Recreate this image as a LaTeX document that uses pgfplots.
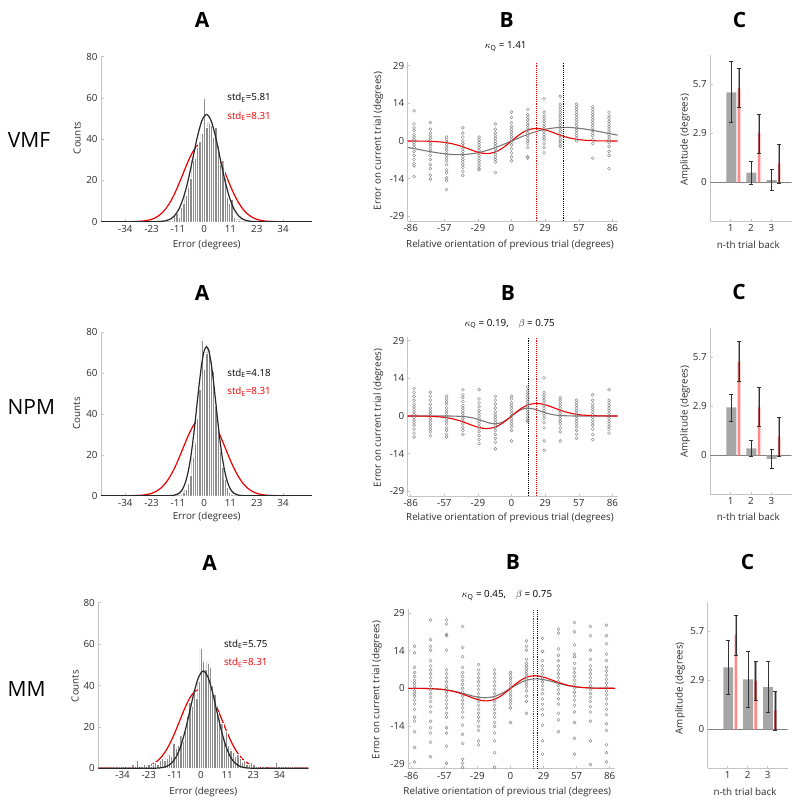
\documentclass[border=0pt]{standalone}
\usepackage{fontspec}
\setmainfont{Open Sans}
\usepackage{pgfplots}
\pgfplotsset{compat=1.18}
\definecolor{axgray}{RGB}{196,196,196}
\definecolor{txtgray}{RGB}{45,45,45}
\definecolor{histgray}{RGB}{140,140,140}
\definecolor{curveblk}{RGB}{40,40,40}
\definecolor{mred}{RGB}{238,0,0}
\definecolor{scgray}{RGB}{130,130,130}
\definecolor{fitgray}{RGB}{120,120,120}
\definecolor{bargray}{RGB}{166,166,166}
\definecolor{barred}{RGB}{255,135,135}
\definecolor{errc}{RGB}{50,50,50}
\newcommand{\tf}{\fontsize{9.8}{11.6}\selectfont}
\newcommand{\bigf}{\fontsize{21}{24}\selectfont}
\pgfplotsset{
  base/.style={scale only axis, anchor=south west, axis lines=left,
    axis line style={-, draw=axgray, line width=0.8pt},
    tick style={draw=axgray, line width=0.5pt}, major tick length=2.5pt, tick align=inside,
    tick label style={font=\tf, text=txtgray}},
  histA/.style={base, xmin=-45, xmax=47, ymin=0, ymax=80,
    xtick={-34.38,-22.92,-11.46,0,11.46,22.92,34.38}, xticklabels={-34,-23,-11,0,11,23,34},
    ytick={0,20,40,60,80}, yticklabels={0,20,40,60,80}},
  scB/.style={base, height=159.1pt, xmin=-88.5, xmax=90.5, ymin=-30.5, ymax=30,
    xtick={-85.94,-57.3,-28.65,0,28.65,57.3,85.94}, xticklabels={-86,-57,-29,0,29,57,86},
    ytick={-28.65,-14.32,0,14.32,28.65}, yticklabels={-29,-14,0,14,29}},
  barC/.style={base, height=166pt, xmin=0, xmax=4, ymin=-2.27, ymax=7.44,
    xtick={1,2,3}, xticklabels={1,2,3}, ytick={0,2.865,5.73}, yticklabels={0,2.9,5.7}},
  hbar/.style={ybar, bar shift=0pt, bar width=1, fill=histgray, draw=white, line width=0.18pt},
  redfit/.style={mred, line width=1.2pt, smooth},
  blkfit/.style={curveblk, line width=1.2pt, smooth},
  grayfit/.style={fitgray, line width=1.1pt, smooth},
  redB/.style={mred, line width=1.1pt, smooth},
  sc/.style={only marks, mark=o, mark size=1.5pt, scgray, mark options={line width=0.4pt}},
  vred/.style={mred, densely dotted, line width=0.9pt},
  vblk/.style={black, densely dotted, line width=0.9pt},
  gbar/.style={ybar, bar shift=0pt, bar width=0.49, fill=bargray, draw=none},
  rbar/.style={ybar, bar shift=0pt, bar width=0.13, fill=barred, draw=none},
  eln/.style={errc, line width=0.6pt, unbounded coords=jump, forget plot},
  band/.style={black, opacity=0.33, line width=2.7pt, line cap=butt, forget plot},
  zline/.style={gray, line width=0.5pt},
}
\begin{document}
\begin{tikzpicture}
\path[use as bounding box] (0pt,0pt) rectangle (800pt,-806pt);

% ===================== ROW 1 (VMF) =====================
\begin{axis}[histA, at={(101pt,-221.7pt)}, width=211pt, height=165pt]
\addplot[redfit] coordinates {(-45,0)(-37,0)(-33,0.02)(-31,0.06)(-29,0.13)(-27,0.28)(-25,0.59)(-23,1.14)(-21,2.10)(-19,3.64)(-17,5.95)(-15,9.19)(-13,13.40)(-11,18.42)(-9,23.91)(-7,29.28)(-5,33.84)(-3,36.91)(-1,38)(1,38)(3,36.91)(5,33.84)(7,29.28)(9,23.91)(11,18.42)(13,13.40)(15,9.19)(17,5.95)(19,3.64)(21,2.10)(23,1.14)(25,0.59)(27,0.28)(29,0.13)(31,0.06)(33,0.02)(37,0)(47,0)};
\addplot[hbar] coordinates {(-14,1)(-13,3)(-12,4)(-11,2)(-10,7)(-9,9)(-8,13)(-7,17)(-6,21)(-5,30)(-4,31)(-3,36)(-2,39)(-1,43)(0,60)(1,46)(2,48)(3,47)(4,41)(5,46)(6,37)(7,28)(8,30)(9,21)(10,12)(11,9)(12,11)(13,2)(14,1)(15,1)(16,1)};
\addplot[blkfit] coordinates {(-45,0)(-29,0)(-25,0)(-23,0.01)(-21,0.04)(-19,0.14)(-17,0.43)(-15,1.17)(-13,2.85)(-11,6.16)(-9,11.83)(-7,20.15)(-5,30.51)(-3,41.03)(-1,49.01)(1,52)(3,49.01)(5,41.03)(7,30.51)(9,20.15)(11,11.83)(13,6.16)(15,2.85)(17,1.17)(19,0.43)(21,0.14)(23,0.04)(25,0.01)(27,0)(31,0)(47,0)};
\node[anchor=west, inner sep=0pt, font=\tf] at (axis cs:10,60) {std\textsubscript{E}=5.81};
\node[anchor=west, inner sep=0pt, font=\tf, text=mred] at (axis cs:10,51) {std\textsubscript{E}=8.31};
\end{axis}

\begin{axis}[scB, at={(407.7pt,-221.2pt)}, width=210pt]
\addplot[sc] coordinates {
(-83.1,11.5)(-83.1,6.5)(-83.1,5)(-83.1,4)(-83.1,2.5)(-83.1,1.5)(-83.1,0.5)(-83.1,-0.5)(-83.1,-1.5)(-83.1,-2.5)(-83.1,-4)(-83.1,-5.5)(-83.1,-7)(-83.1,-8.5)(-83.1,-9.5)(-83.1,-13.5)
(-69.2,7)(-69.2,4.5)(-69.2,3)(-69.2,2)(-69.2,1)(-69.2,0)(-69.2,-1)(-69.2,-2)(-69.2,-3)(-69.2,-4)(-69.2,-5.5)(-69.2,-7)(-69.2,-9)(-69.2,-10.5)(-69.2,-13)(-69.2,-14.5)
(-55.4,1.5)(-55.4,0.5)(-55.4,-0.5)(-55.4,-1.5)(-55.4,-2.5)(-55.4,-3.5)(-55.4,-4.5)(-55.4,-5.5)(-55.4,-6.5)(-55.4,-7.5)(-55.4,-9)(-55.4,-11)(-55.4,-12)(-55.4,-14)(-55.4,-15)(-55.4,-18.5)
(-41.5,5)(-41.5,3)(-41.5,1.5)(-41.5,0)(-41.5,-1)(-41.5,-2)(-41.5,-3)(-41.5,-4)(-41.5,-5)(-41.5,-6)(-41.5,-7)(-41.5,-8)(-41.5,-9)(-41.5,-10)(-41.5,-11.5)(-41.5,-13)
(-27.7,1.5)(-27.7,0.5)(-27.7,-0.5)(-27.7,-1.5)(-27.7,-2.5)(-27.7,-3.5)(-27.7,-4.5)(-27.7,-5.5)(-27.7,-6.5)(-27.7,-7.5)(-27.7,-8.5)(-27.7,-9.5)(-27.7,-10.5)(-27.7,-11)
(-13.8,6.5)(-13.8,4.5)(-13.8,3)(-13.8,2)(-13.8,1)(-13.8,0)(-13.8,-1)(-13.8,-2)(-13.8,-3)(-13.8,-4)(-13.8,-5)(-13.8,-6)(-13.8,-7)(-13.8,-8)(-13.8,-12)
(0,11)(0,9)(0,7)(0,5.5)(0,4.5)(0,3.5)(0,2.5)(0,1.5)(0,0.5)(0,-0.5)(0,-1.5)(0,-3)(0,-4.5)(0,-6)(0,-7.5)
(13.8,12)(13.8,10)(13.8,9)(13.8,8)(13.8,7)(13.8,6)(13.8,5)(13.8,4)(13.8,3)(13.8,2)(13.8,1)(13.8,0)(13.8,-1)(13.8,-2.5)(13.8,-6)(13.8,-6.5)
(27.7,16)(27.7,11)(27.7,9.5)(27.7,8.5)(27.7,7.5)(27.7,6.5)(27.7,5.5)(27.7,4.5)(27.7,3.5)(27.7,2.5)(27.7,1.5)(27.7,0.5)(27.7,-1)(27.7,-2.5)(27.7,-4.5)
(41.5,17)(41.5,14)(41.5,13)(41.5,12)(41.5,11)(41.5,10)(41.5,9)(41.5,8)(41.5,7)(41.5,6)(41.5,5)(41.5,4)(41.5,3)(41.5,2)(41.5,1)(41.5,0)(41.5,-1)(41.5,-2)
(55.4,14)(55.4,13)(55.4,12)(55.4,11)(55.4,10)(55.4,9)(55.4,8)(55.4,7)(55.4,6)(55.4,5)(55.4,4)(55.4,3)(55.4,2)(55.4,1)(55.4,0)
(69.2,13)(69.2,12)(69.2,11)(69.2,10)(69.2,9)(69.2,8)(69.2,7)(69.2,6)(69.2,5)(69.2,4)(69.2,3)(69.2,2)(69.2,0.5)(69.2,-1)(69.2,-6.5)
(83.1,11)(83.1,9.5)(83.1,8.5)(83.1,7.5)(83.1,6.5)(83.1,5.5)(83.1,4.5)(83.1,3.5)(83.1,2.5)(83.1,1.5)(83.1,0.5)(83.1,-0.5)(83.1,-2)(83.1,-4)(83.1,-5.5)(83.1,-10.5)};
\addplot[grayfit] coordinates {(-88.5,-2.44)(-80,-3.139)(-70,-3.977)(-60,-4.699)(-50,-5.138)(-45,-5.2)(-40,-5.133)(-30,-4.577)(-20,-3.452)(-10,-1.859)(0,0)(10,1.859)(20,3.452)(30,4.577)(40,5.133)(45,5.2)(50,5.138)(60,4.699)(70,3.977)(80,3.139)(90.5,2.23)};
\addplot[redB] coordinates {(-88.5,0)(-80,-0.021)(-70,-0.102)(-60,-0.382)(-55,-0.671)(-50,-1.107)(-45,-1.708)(-40,-2.457)(-35,-3.290)(-30,-4.075)(-25,-4.637)(-21,-4.8)(-15,-4.379)(-10,-3.363)(-5,-1.831)(0,0)(5,1.831)(10,3.363)(15,4.379)(21,4.8)(25,4.637)(30,4.075)(35,3.290)(40,2.457)(45,1.708)(50,1.107)(55,0.671)(60,0.382)(70,0.102)(80,0.021)(90.5,0)};
\addplot[vred] coordinates {(21,-30.5)(21,30)};
\addplot[vblk] coordinates {(44.5,-30.5)(44.5,30)};
\end{axis}

\begin{axis}[barC, at={(710.3pt,-221.1pt)}, width=81.4pt]
\addplot[zline] coordinates {(0,0)(4,0)};
\addplot[gbar] coordinates {(1.03,5.26)(2.02,0.56)(3.01,0.13)};
\addplot[rbar] coordinates {(1.41,5.5)(2.40,2.87)(3.38,1.11)};
\addplot[band] coordinates {(1.41,4.36)(1.41,6.67)};
\addplot[band] coordinates {(2.40,1.70)(2.40,3.98)};
\addplot[band] coordinates {(3.38,-0.04)(3.38,2.22)};
\addplot[eln] coordinates {
(1.03,3.49)(1.03,7.05)(nan,nan)(0.93,3.49)(1.13,3.49)(nan,nan)(0.93,7.05)(1.13,7.05)(nan,nan)
(2.02,-0.12)(2.02,1.23)(nan,nan)(1.92,-0.12)(2.12,-0.12)(nan,nan)(1.92,1.23)(2.12,1.23)(nan,nan)
(3.01,-0.49)(3.01,0.76)(nan,nan)(2.91,-0.49)(3.11,-0.49)(nan,nan)(2.91,0.76)(3.11,0.76)(nan,nan)
(1.41,4.36)(1.41,6.67)(nan,nan)(1.31,4.36)(1.51,4.36)(nan,nan)(1.31,6.67)(1.51,6.67)(nan,nan)
(2.40,1.70)(2.40,3.98)(nan,nan)(2.30,1.70)(2.50,1.70)(nan,nan)(2.30,3.98)(2.50,3.98)(nan,nan)
(3.38,-0.04)(3.38,2.22)(nan,nan)(3.28,-0.04)(3.48,-0.04)(nan,nan)(3.28,2.22)(3.48,2.22)};
\end{axis}

% ===================== ROW 2 (NPM) =====================
\begin{axis}[histA, at={(101pt,-495.7pt)}, width=211pt, height=163.4pt]
\addplot[redfit] coordinates {(-45,0)(-37,0)(-33,0.02)(-31,0.06)(-29,0.13)(-27,0.28)(-25,0.59)(-23,1.14)(-21,2.10)(-19,3.64)(-17,5.95)(-15,9.19)(-13,13.40)(-11,18.42)(-9,23.91)(-7,29.28)(-5,33.84)(-3,36.91)(-1,38)(1,38)(3,36.91)(5,33.84)(7,29.28)(9,23.91)(11,18.42)(13,13.40)(15,9.19)(17,5.95)(19,3.64)(21,2.10)(23,1.14)(25,0.59)(27,0.28)(29,0.13)(31,0.06)(33,0.02)(37,0)(47,0)};
\addplot[hbar] coordinates {(-10,1)(-9,2)(-8,3)(-7,6)(-6,10)(-5,19)(-4,26)(-3,38)(-2,52)(-1,76)(0,62)(1,70)(2,72)(3,66)(4,61)(5,44)(6,32)(7,22)(8,14)(9,8)(10,4)(11,2)(12,1)};
\addplot[blkfit] coordinates {(-45,0)(-21,0)(-17,0)(-15,0.05)(-13,0.27)(-11,1.18)(-10,2.29)(-9,4.17)(-8,7.19)(-7,11.69)(-6,17.96)(-5,26.05)(-4,35.70)(-3,46.18)(-2,56.42)(-1,65.10)(0,70.94)(1,73)(2,70.94)(3,65.10)(4,56.42)(5,46.18)(6,35.70)(7,26.05)(8,17.96)(9,11.69)(10,7.19)(11,4.17)(12,2.29)(13,1.18)(15,0.27)(17,0.05)(19,0)(23,0)(47,0)};
\node[anchor=west, inner sep=0pt, font=\tf] at (axis cs:10,60) {std\textsubscript{E}=4.18};
\node[anchor=west, inner sep=0pt, font=\tf, text=mred] at (axis cs:10,51) {std\textsubscript{E}=8.31};
\end{axis}

\begin{axis}[scB, at={(407.7pt,-496.2pt)}, width=210pt]
\addplot[sc] coordinates {
(-83.1,10.5)(-83.1,9)(-83.1,7.5)(-83.1,6)(-83.1,4.5)(-83.1,3.5)(-83.1,2.5)(-83.1,1.5)(-83.1,0.5)(-83.1,-0.5)(-83.1,-1.5)(-83.1,-2.5)(-83.1,-3.5)(-83.1,-5)(-83.1,-6.5)(-83.1,-8)
(-69.2,9)(-69.2,7.5)(-69.2,6)(-69.2,4.5)(-69.2,3)(-69.2,2)(-69.2,1)(-69.2,0)(-69.2,-1)(-69.2,-2)(-69.2,-3)(-69.2,-4)(-69.2,-5)(-69.2,-6)(-69.2,-7.5)
(-55.4,7.5)(-55.4,6.5)(-55.4,5.5)(-55.4,4.5)(-55.4,3)(-55.4,2)(-55.4,1)(-55.4,0)(-55.4,-1)(-55.4,-2)(-55.4,-3)(-55.4,-4.5)(-55.4,-5.5)(-55.4,-7)(-55.4,-8)
(-41.5,10)(-41.5,8)(-41.5,7)(-41.5,5.5)(-41.5,4)(-41.5,3)(-41.5,2)(-41.5,1)(-41.5,0)(-41.5,-1)(-41.5,-2)(-41.5,-3)(-41.5,-4.5)(-41.5,-5.5)(-41.5,-7)
(-27.7,10)(-27.7,6.5)(-27.7,5)(-27.7,3.5)(-27.7,2)(-27.7,1)(-27.7,0)(-27.7,-1)(-27.7,-2)(-27.7,-3)(-27.7,-4)(-27.7,-5)(-27.7,-6)(-27.7,-7.5)(-27.7,-9)(-27.7,-10.5)
(-13.8,7.5)(-13.8,6)(-13.8,4.5)(-13.8,3)(-13.8,1.5)(-13.8,0.5)(-13.8,-0.5)(-13.8,-1.5)(-13.8,-2.5)(-13.8,-3.5)(-13.8,-4.5)(-13.8,-5.5)(-13.8,-7)(-13.8,-8.5)(-13.8,-10)(-13.8,-12.5)
(0,7.5)(0,6.5)(0,5)(0,4)(0,3)(0,2)(0,1)(0,0)(0,-1)(0,-2)(0,-3)(0,-4)(0,-5.5)(0,-9.5)
(13.8,11)(13.8,9.5)(13.8,8.5)(13.8,7.5)(13.8,6.5)(13.8,5.5)(13.8,4.5)(13.8,3.5)(13.8,2.5)(13.8,1.5)(13.8,0.5)(13.8,-0.5)(13.8,-1.5)(13.8,-2)
(27.7,14.5)(27.7,9)(27.7,8)(27.7,7)(27.7,6)(27.7,5)(27.7,4)(27.7,3)(27.7,2)(27.7,1)(27.7,0)(27.7,-1)(27.7,-2.5)(27.7,-4.5)(27.7,-9.5)(27.7,-13)
(41.5,7)(41.5,6)(41.5,5)(41.5,4)(41.5,3)(41.5,2)(41.5,1)(41.5,0)(41.5,-1)(41.5,-2)(41.5,-3)(41.5,-4.5)(41.5,-6)(41.5,-9.5)
(55.4,6)(55.4,5)(55.4,4)(55.4,3)(55.4,2)(55.4,1)(55.4,0)(55.4,-1)(55.4,-2)(55.4,-3)(55.4,-4)(55.4,-5.5)(55.4,-7)(55.4,-8.5)
(69.2,8)(69.2,6)(69.2,4.5)(69.2,3.5)(69.2,2.5)(69.2,1.5)(69.2,0.5)(69.2,-0.5)(69.2,-1.5)(69.2,-2.5)(69.2,-3.5)(69.2,-5)(69.2,-7)(69.2,-9)
(83.1,10)(83.1,6)(83.1,5)(83.1,4)(83.1,3)(83.1,2)(83.1,1)(83.1,0)(83.1,-1)(83.1,-2)(83.1,-3)(83.1,-4)(83.1,-5)(83.1,-6.5)};
\addplot[grayfit] coordinates {(-88.5,0)(-70,0)(-60,0)(-50,-0.03)(-40,-0.239)(-35,-0.543)(-30,-1.067)(-25,-1.793)(-20,-2.547)(-14,-3)(-10,-2.737)(-5,-1.657)(0,0)(5,1.657)(10,2.737)(14,3)(20,2.547)(25,1.793)(30,1.067)(35,0.543)(40,0.239)(50,0.03)(60,0)(70,0)(90.5,0)};
\addplot[redB] coordinates {(-88.5,0)(-80,-0.021)(-70,-0.102)(-60,-0.382)(-55,-0.671)(-50,-1.107)(-45,-1.708)(-40,-2.457)(-35,-3.290)(-30,-4.075)(-25,-4.637)(-21,-4.8)(-15,-4.379)(-10,-3.363)(-5,-1.831)(0,0)(5,1.831)(10,3.363)(15,4.379)(21,4.8)(25,4.637)(30,4.075)(35,3.290)(40,2.457)(45,1.708)(50,1.107)(55,0.671)(60,0.382)(70,0.102)(80,0.021)(90.5,0)};
\addplot[vblk] coordinates {(14.5,-30.5)(14.5,30)};
\addplot[vred] coordinates {(21,-30.5)(21,30)};
\end{axis}

\begin{axis}[barC, at={(710.3pt,-494.1pt)}, width=81.4pt]
\addplot[zline] coordinates {(0,0)(4,0)};
\addplot[gbar] coordinates {(1.03,2.81)(2.02,0.41)(3.01,-0.21)};
\addplot[rbar] coordinates {(1.41,5.48)(2.40,2.81)(3.38,1.09)};
\addplot[band] coordinates {(1.41,4.31)(1.41,6.65)};
\addplot[band] coordinates {(2.40,1.68)(2.40,3.98)};
\addplot[band] coordinates {(3.38,-0.08)(3.38,2.22)};
\addplot[eln] coordinates {
(1.03,2.01)(1.03,3.57)(nan,nan)(0.93,2.01)(1.13,2.01)(nan,nan)(0.93,3.57)(1.13,3.57)(nan,nan)
(2.02,-0.04)(2.02,0.90)(nan,nan)(1.92,-0.04)(2.12,-0.04)(nan,nan)(1.92,0.90)(2.12,0.90)(nan,nan)
(3.01,-0.76)(3.01,0.37)(nan,nan)(2.91,-0.76)(3.11,-0.76)(nan,nan)(2.91,0.37)(3.11,0.37)(nan,nan)
(1.41,4.31)(1.41,6.65)(nan,nan)(1.31,4.31)(1.51,4.31)(nan,nan)(1.31,6.65)(1.51,6.65)(nan,nan)
(2.40,1.68)(2.40,3.98)(nan,nan)(2.30,1.68)(2.50,1.68)(nan,nan)(2.30,3.98)(2.50,3.98)(nan,nan)
(3.38,-0.08)(3.38,2.22)(nan,nan)(3.28,-0.08)(3.48,-0.08)(nan,nan)(3.28,2.22)(3.48,2.22)};
\end{axis}

% ===================== ROW 3 (MM) =====================
\begin{axis}[histA, at={(98.3pt,-768.3pt)}, width=210pt, height=165.6pt]
\addplot[redfit] coordinates {(-45,0)(-37,0)(-33,0.02)(-31,0.06)(-29,0.13)(-27,0.28)(-25,0.59)(-23,1.14)(-21,2.10)(-19,3.64)(-17,5.95)(-15,9.19)(-13,13.40)(-11,18.42)(-9,23.91)(-7,29.28)(-5,33.84)(-3,36.91)(-1,38)(1,38)(3,36.91)(5,33.84)(7,29.28)(9,23.91)(11,18.42)(13,13.40)(15,9.19)(17,5.95)(19,3.64)(21,2.10)(23,1.14)(25,0.59)(27,0.28)(29,0.13)(31,0.06)(33,0.02)(37,0)(47,0)};
\addplot[hbar] coordinates {(-37,1)(-35,1)(-34,1)(-33,1)(-30,2)(-28,4)(-26,1)(-25,2)(-24,1)(-23,2)(-22,1)(-21,2)(-20,3)(-19,2)(-18,4)(-17,5)(-16,4)(-15,5)(-14,7)(-13,6)(-12,12)(-11,10)(-10,11)(-9,16)(-8,13)(-7,18)(-6,25)(-5,32)(-4,30)(-3,37)(-2,34)(-1,42)(0,58)(1,52)(2,48)(3,51)(4,49)(5,40)(6,36)(7,27)(8,24)(9,22)(10,14)(11,18)(12,11)(13,9)(14,8)(15,6)(16,7)(17,5)(18,3)(19,4)(20,2)(21,2)(22,3)(23,2)(24,1)(25,1)(27,1)(33,3)(34,1)(35,1)(36,1)(37,1)(38,1)(40,1)};
\addplot[blkfit] coordinates {(-45,0)(-29,0)(-25,0)(-23,0.01)(-21,0.03)(-19,0.11)(-17,0.35)(-15,0.98)(-13,2.43)(-11,5.32)(-9,10.36)(-7,17.86)(-5,27.27)(-3,36.90)(-1,44.24)(1,47)(3,44.24)(5,36.90)(7,27.27)(9,17.86)(11,10.36)(13,5.32)(15,2.43)(17,0.98)(19,0.35)(21,0.11)(23,0.03)(25,0.01)(27,0)(31,0)(47,0)};
\node[anchor=west, inner sep=0pt, font=\tf] at (axis cs:10,60) {std\textsubscript{E}=5.75};
\node[anchor=west, inner sep=0pt, font=\tf, text=mred] at (axis cs:10,51) {std\textsubscript{E}=8.31};
\end{axis}

\begin{axis}[scB, at={(408.3pt,-768.5pt)}, width=206.7pt]
\addplot[sc] coordinates {
(-83.1,16)(-83.1,13.5)(-83.1,8)(-83.1,6)(-83.1,4.5)(-83.1,3)(-83.1,2)(-83.1,1)(-83.1,0)(-83.1,-1)(-83.1,-2)(-83.1,-3)(-83.1,-4.5)(-83.1,-6)(-83.1,-8)(-83.1,-11)(-83.1,-12.5)(-83.1,-16.5)(-83.1,-22.5)(-83.1,-28)
(-69.2,26)(-69.2,18.5)(-69.2,16)(-69.2,14.5)(-69.2,10.5)(-69.2,8.5)(-69.2,7)(-69.2,5.5)(-69.2,4)(-69.2,2.5)(-69.2,1)(-69.2,-0.5)(-69.2,-2)(-69.2,-3.5)(-69.2,-5)(-69.2,-7)(-69.2,-9)(-69.2,-12.5)(-69.2,-15)(-69.2,-17)(-69.2,-20.5)(-69.2,-26)
(-55.4,26)(-55.4,24.5)(-55.4,20.5)(-55.4,20)(-55.4,14.5)(-55.4,7)(-55.4,5.5)(-55.4,4)(-55.4,2.5)(-55.4,1)(-55.4,0)(-55.4,-1.5)(-55.4,-3)(-55.4,-4.5)(-55.4,-6)(-55.4,-7.5)(-55.4,-9.5)(-55.4,-11)(-55.4,-15)(-55.4,-17)(-55.4,-22)(-55.4,-28.5)
(-41.5,23.5)(-41.5,15.5)(-41.5,12)(-41.5,8)(-41.5,6)(-41.5,4.5)(-41.5,3)(-41.5,1.5)(-41.5,0)(-41.5,-1.5)(-41.5,-3)(-41.5,-4.5)(-41.5,-6)(-41.5,-7.5)(-41.5,-9)(-41.5,-11)(-41.5,-14)(-41.5,-17.5)(-41.5,-21)(-41.5,-27)(-41.5,-28.5)(-41.5,-30)
(-27.7,9)(-27.7,7)(-27.7,5.5)(-27.7,4)(-27.7,2.5)(-27.7,1)(-27.7,-0.5)(-27.7,-2)(-27.7,-3.5)(-27.7,-5)(-27.7,-6.5)(-27.7,-8)(-27.7,-9.5)(-27.7,-11)(-27.7,-12.5)(-27.7,-14.5)(-27.7,-16)(-27.7,-20)(-27.7,-21.5)
(-13.8,7)(-13.8,5.5)(-13.8,4)(-13.8,2.5)(-13.8,1)(-13.8,-0.5)(-13.8,-2)(-13.8,-3.5)(-13.8,-5)(-13.8,-6.5)(-13.8,-8)(-13.8,-9.5)(-13.8,-11)(-13.8,-13)(-13.8,-14.5)(-13.8,-17)(-13.8,-20)(-13.8,-24.5)(-13.8,-30)
(0,6)(0,5)(0,4)(0,3)(0,2)(0,1)(0,0)(0,-1)(0,-2)(0,-3)(0,-4)(0,-5)(0,-6)(0,-7.5)(0,-13)
(13.8,18)(13.8,16)(13.8,14.5)(13.8,11)(13.8,9.5)(13.8,8.5)(13.8,7.5)(13.8,6.5)(13.8,5.5)(13.8,4.5)(13.8,3.5)(13.8,2.5)(13.8,1.5)(13.8,0.5)(13.8,-1)(13.8,-3)(13.8,-5)(13.8,-9.5)
(27.7,19)(27.7,14)(27.7,10.5)(27.7,8.5)(27.7,7)(27.7,5.5)(27.7,4)(27.7,2.5)(27.7,1)(27.7,-0.5)(27.7,-2)(27.7,-4)(27.7,-6)(27.7,-8)(27.7,-10)(27.7,-14)(27.7,-20)(27.7,-25)
(41.5,22.5)(41.5,21)(41.5,15)(41.5,12.5)(41.5,10.5)(41.5,8.5)(41.5,7)(41.5,5.5)(41.5,4)(41.5,2.5)(41.5,1)(41.5,-0.5)(41.5,-2)(41.5,-4)(41.5,-6)(41.5,-9.5)(41.5,-12)(41.5,-16.5)
(55.4,25)(55.4,21.5)(55.4,16.5)(55.4,13)(55.4,12)(55.4,9.5)(55.4,7.5)(55.4,6)(55.4,4.5)(55.4,3)(55.4,1.5)(55.4,0)(55.4,-1.5)(55.4,-3)(55.4,-4.5)(55.4,-6.5)(55.4,-9)(55.4,-13)(55.4,-19)(55.4,-25)
(69.2,23.5)(69.2,20)(69.2,14.5)(69.2,11)(69.2,8.5)(69.2,7)(69.2,5.5)(69.2,4)(69.2,2.5)(69.2,1)(69.2,-0.5)(69.2,-2)(69.2,-3.5)(69.2,-5)(69.2,-7)(69.2,-9)(69.2,-12.5)(69.2,-20)(69.2,-29)
(83.1,24)(83.1,20)(83.1,17)(83.1,13)(83.1,10.5)(83.1,8)(83.1,6.5)(83.1,5)(83.1,3.5)(83.1,2)(83.1,0.5)(83.1,-1)(83.1,-2.5)(83.1,-4)(83.1,-6)(83.1,-8)(83.1,-10)(83.1,-13.5)(83.1,-16)(83.1,-21.5)(83.1,-24.5)(83.1,-28)};
\addplot[grayfit] coordinates {(-88.5,0)(-80,-0.029)(-70,-0.12)(-60,-0.393)(-50,-1.019)(-45,-1.499)(-40,-2.066)(-35,-2.664)(-30,-3.194)(-22,-3.6)(-15,-3.207)(-10,-2.433)(-5,-1.315)(0,0)(5,1.315)(10,2.433)(15,3.207)(22,3.6)(30,3.194)(35,2.664)(40,2.066)(45,1.499)(50,1.019)(60,0.393)(70,0.12)(80,0.029)(90.5,0)};
\addplot[redB] coordinates {(-88.5,0)(-80,-0.021)(-70,-0.102)(-60,-0.382)(-55,-0.671)(-50,-1.107)(-45,-1.708)(-40,-2.457)(-35,-3.290)(-30,-4.075)(-25,-4.637)(-21,-4.8)(-15,-4.379)(-10,-3.363)(-5,-1.831)(0,0)(5,1.831)(10,3.363)(15,4.379)(21,4.8)(25,4.637)(30,4.075)(35,3.290)(40,2.457)(45,1.708)(50,1.107)(55,0.671)(60,0.382)(70,0.102)(80,0.021)(90.5,0)};
\addplot[vred] coordinates {(20,-30.5)(20,30)};
\addplot[vblk] coordinates {(23,-30.5)(23,30)};
\end{axis}

\begin{axis}[barC, at={(707.7pt,-768.1pt)}, width=80pt]
\addplot[zline] coordinates {(0,0)(4,0)};
\addplot[gbar] coordinates {(1.03,3.62)(2.02,2.92)(3.01,2.47)};
\addplot[rbar] coordinates {(1.41,5.54)(2.40,2.84)(3.38,1.11)};
\addplot[band] coordinates {(1.41,4.33)(1.41,6.65)};
\addplot[band] coordinates {(2.40,1.67)(2.40,3.98)};
\addplot[band] coordinates {(3.38,-0.04)(3.38,2.24)};
\addplot[eln] coordinates {
(1.03,2.04)(1.03,5.21)(nan,nan)(0.93,2.04)(1.13,2.04)(nan,nan)(0.93,5.21)(1.13,5.21)(nan,nan)
(2.02,1.28)(2.02,4.57)(nan,nan)(1.92,1.28)(2.12,1.28)(nan,nan)(1.92,4.57)(2.12,4.57)(nan,nan)
(3.01,0.97)(3.01,3.96)(nan,nan)(2.91,0.97)(3.11,0.97)(nan,nan)(2.91,3.96)(3.11,3.96)(nan,nan)
(1.41,4.33)(1.41,6.65)(nan,nan)(1.31,4.33)(1.51,4.33)(nan,nan)(1.31,6.65)(1.51,6.65)(nan,nan)
(2.40,1.67)(2.40,3.98)(nan,nan)(2.30,1.67)(2.50,1.67)(nan,nan)(2.30,3.98)(2.50,3.98)(nan,nan)
(3.38,-0.04)(3.38,2.24)(nan,nan)(3.28,-0.04)(3.48,-0.04)(nan,nan)(3.28,2.24)(3.48,2.24)};
\end{axis}

% ===================== TEXT =====================
\begin{scope}[every node/.style={inner sep=0pt}]
\node[font=\bigf\bfseries] at (202pt,-20pt) {A};
\node[font=\bigf\bfseries] at (506.7pt,-20pt) {B};
\node[font=\bigf\bfseries] at (739.5pt,-20pt) {C};
\node[font=\bigf\bfseries] at (202pt,-293.3pt) {A};
\node[font=\bigf\bfseries] at (508pt,-293.3pt) {B};
\node[font=\bigf\bfseries] at (739pt,-291.7pt) {C};
\node[font=\bigf\bfseries] at (209.5pt,-563.3pt) {A};
\node[font=\bigf\bfseries] at (513pt,-561.7pt) {B};
\node[font=\bigf\bfseries] at (747.5pt,-561.7pt) {C};
\node[font=\bigf] at (29pt,-140pt) {VMF};
\node[font=\bigf] at (31.3pt,-407.3pt) {NPM};
\node[font=\bigf] at (26.7pt,-689pt) {MM};
\node[font=\tf] at (505.7pt,-46.7pt) {$\kappa$\textsubscript{Q} = 1.41};
\node[font=\tf] at (509.7pt,-324pt) {$\kappa$\textsubscript{Q} = 0.19,\quad $\beta$ = 0.75};
\node[font=\tf] at (507pt,-595.7pt) {$\kappa$\textsubscript{Q} = 0.45,\quad $\beta$ = 0.75};
\node[font=\tf, text=txtgray, rotate=90] at (77pt,-138pt) {Counts};
\node[font=\tf, text=txtgray] at (206.7pt,-245pt) {Error (degrees)};
\node[font=\tf, text=txtgray, rotate=90] at (378.3pt,-141pt) {Error on current trial (degrees)};
\node[font=\tf, text=txtgray] at (510pt,-245pt) {Relative orientation of previous trial (degrees)};
\node[font=\tf, text=txtgray, rotate=90] at (685pt,-140pt) {Amplitude (degrees)};
\node[font=\tf, text=txtgray] at (748.3pt,-245pt) {n-th trial back};
\node[font=\tf, text=txtgray, rotate=90] at (76.7pt,-413.3pt) {Counts};
\node[font=\tf, text=txtgray] at (206.7pt,-517.3pt) {Error (degrees)};
\node[font=\tf, text=txtgray, rotate=90] at (378.3pt,-418pt) {Error on current trial (degrees)};
\node[font=\tf, text=txtgray] at (510pt,-518.3pt) {Relative orientation of previous trial (degrees)};
\node[font=\tf, text=txtgray, rotate=90] at (685pt,-411.7pt) {Amplitude (degrees)};
\node[font=\tf, text=txtgray] at (748.3pt,-516.7pt) {n-th trial back};
\node[font=\tf, text=txtgray, rotate=90] at (75pt,-686pt) {Counts};
\node[font=\tf, text=txtgray] at (203.3pt,-791.7pt) {Error (degrees)};
\node[font=\tf, text=txtgray, rotate=90] at (376.7pt,-690pt) {Error on current trial (degrees)};
\node[font=\tf, text=txtgray] at (507.3pt,-791.7pt) {Relative orientation of previous trial (degrees)};
\node[font=\tf, text=txtgray, rotate=90] at (680pt,-688.3pt) {Amplitude (degrees)};
\node[font=\tf, text=txtgray] at (745pt,-791.7pt) {n-th trial back};
\end{scope}
\end{tikzpicture}
\end{document}
